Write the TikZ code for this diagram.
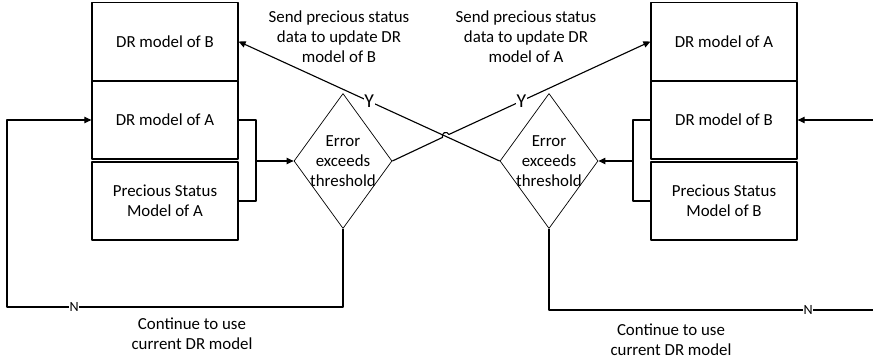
\documentclass[tikz,border=0pt]{standalone}
\usepackage{fontspec}
\setmainfont{Carlito}
\usetikzlibrary{shapes.geometric,arrows.meta,calc}
\begin{document}
\begin{tikzpicture}[x=0.025cm, y=-0.025cm, font=\fontsize{12}{14.2}\selectfont, line join=round, >={Triangle[length=5pt,width=4.5pt]},
    box/.style={draw, line width=0.8pt, minimum width=3.65cm, minimum height=1.95cm, align=center, inner sep=0pt},
    decision/.style={draw, diamond, line width=0.5pt, minimum width=2.45cm, minimum height=3.375cm, inner sep=0pt},
    link/.style={line width=0.8pt},
    yl/.style={fill=white, inner sep=0.5pt, font=\fontsize{14}{14}\selectfont},
    nl/.style={fill=white, inner sep=0.5pt, font=\fontsize{10}{10}\selectfont}]
    \useasboundingbox (0,0) rectangle (873,361);
    % model stacks
    \node[box] (lb1) at (165,41.5) {DR model of B};
    \node[box] (lb2) at (165,120) {DR model of A};
    \node[box] (lb3) at (165,201) {Precious Status\\Model of A};
    \node[box] (rb1) at (724,41.5) {DR model of A};
    \node[box] (rb2) at (724,120) {DR model of B};
    \node[box] (rb3) at (724,201) {Precious Status\\Model of B};
    % decisions
    \node[decision, label={[align=center]center:Error\\exceeds\\threshold}] (ldia) at (343,161) {};
    \node[decision, label={[align=center]center:Error\\exceeds\\threshold}] (rdia) at (549,161) {};
    % texts
    \node[align=center] (lsend) at (339,37) {Send precious status\\data to update DR\\model of B};
    \node[align=center] (rsend) at (526,37) {Send precious status\\data to update DR\\model of A};
    \node[align=center] (lcont) at (192,334) {Continue to use\\current DR model};
    \node[align=center] (rcont) at (671,340) {Continue to use\\current DR model};
    \path
    (7,307) coordinate (lloop)
    (256,161) coordinate (lj)
    (633,161) coordinate (rj)
    (873,310) coordinate (rout)
    (873,120) coordinate (rin)
    (445.7,135.9) coordinate (hop);
    \draw[link] (lb2.east) -| (lj) |- (lb3.east);
    \draw[link,->] (lj) -- (ldia.west);
    \draw[link] (rb2.west) -| (rj) |- (rb3.west);
    \draw[link,->] (rj) -- (rdia.east);
    \draw[link,->] (ldia.south) |- node[nl,pos=0.9]{N} (lloop) |- (lb2.west);
    \draw[link] (rdia.south) |- node[nl,pos=0.9]{N} (rout);
    \draw[link,->] (rin) -- (rb2.east);
    \draw[link,->] (rdia.west) -- node[yl]{Y} (lb1.east);
    \draw[link,->] (ldia.east) -- ($(hop)!2.5pt!(ldia.east)$) arc[start angle=204.7, end angle=24.7, radius=2.5pt] -- node[yl,pos=0.36]{Y} (rb1.west);
\end{tikzpicture}
\end{document}
